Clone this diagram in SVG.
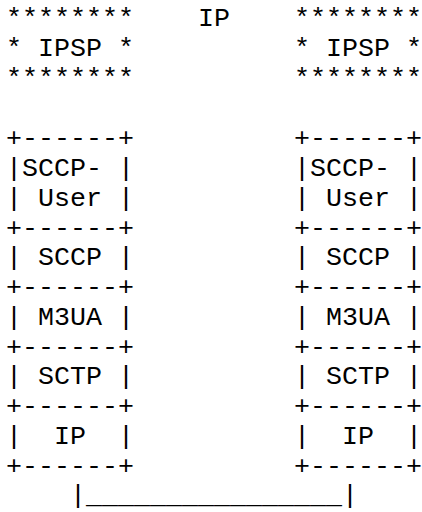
<svg xmlns="http://www.w3.org/2000/svg" width="422" height="512" viewBox="0 0 422 512">
<style>
text{font-family:"Liberation Mono","Courier New",monospace;font-size:26.67px;fill:#000;white-space:pre}
</style>
<rect width="422" height="512" fill="#fff"/>
<g id="ipsp-left">
<text x="6" y="26" xml:space="preserve">********</text>
<text x="6" y="56" xml:space="preserve">* IPSP *</text>
<text x="6" y="86" xml:space="preserve">********</text>
</g>
<g id="ip-label">
<text x="198" y="26">IP</text>
</g>
<g id="ipsp-right">
<text x="294" y="26" xml:space="preserve">********</text>
<text x="294" y="56" xml:space="preserve">* IPSP *</text>
<text x="294" y="86" xml:space="preserve">********</text>
</g>
<g id="stack-left">
<text x="6" y="146" xml:space="preserve">+------+</text>
<text x="6" y="176" xml:space="preserve">|SCCP- |</text>
<text x="6" y="206" xml:space="preserve">| User |</text>
<text x="6" y="236" xml:space="preserve">+------+</text>
<text x="6" y="265" xml:space="preserve">| SCCP |</text>
<text x="6" y="295" xml:space="preserve">+------+</text>
<text x="6" y="325" xml:space="preserve">| M3UA |</text>
<text x="6" y="355" xml:space="preserve">+------+</text>
<text x="6" y="384" xml:space="preserve">| SCTP |</text>
<text x="6" y="414" xml:space="preserve">+------+</text>
<text x="6" y="444" xml:space="preserve">|  IP  |</text>
<text x="6" y="474" xml:space="preserve">+------+</text>
</g>
<g id="stack-right">
<text x="294" y="146" xml:space="preserve">+------+</text>
<text x="294" y="176" xml:space="preserve">|SCCP- |</text>
<text x="294" y="206" xml:space="preserve">| User |</text>
<text x="294" y="236" xml:space="preserve">+------+</text>
<text x="294" y="265" xml:space="preserve">| SCCP |</text>
<text x="294" y="295" xml:space="preserve">+------+</text>
<text x="294" y="325" xml:space="preserve">| M3UA |</text>
<text x="294" y="355" xml:space="preserve">+------+</text>
<text x="294" y="384" xml:space="preserve">| SCTP |</text>
<text x="294" y="414" xml:space="preserve">+------+</text>
<text x="294" y="444" xml:space="preserve">|  IP  |</text>
<text x="294" y="474" xml:space="preserve">+------+</text>
</g>
<g id="connectors">
<text x="70" y="503" xml:space="preserve">|________________|</text>
</g>
</svg>
